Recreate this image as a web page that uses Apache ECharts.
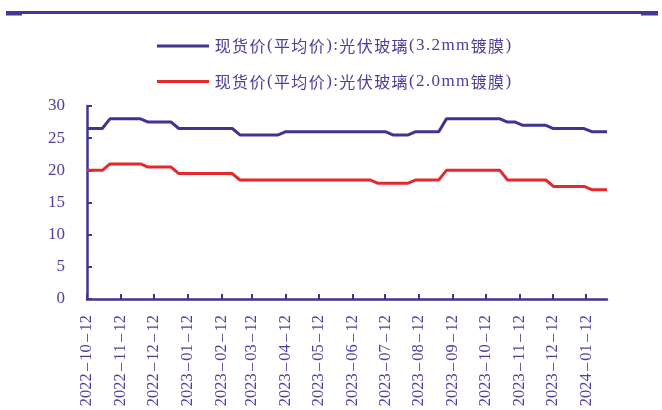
<!DOCTYPE html>
<html>
<head>
<meta charset="utf-8">
<script src="https://cdn.jsdelivr.net/npm/echarts@6/dist/echarts.min.js"></script>
<style>
html,body{margin:0;padding:0;background:#fff;}
#chart{width:662px;height:410px;}
</style>
</head>
<body>
<div id="chart"></div>
<script>
// Weekly observation dates
const dates = [
  '2022-10-12','2022-10-19','2022-10-26','2022-11-02','2022-11-09','2022-11-16','2022-11-23','2022-11-30',
  '2022-12-07','2022-12-14','2022-12-21','2022-12-28',
  '2023-01-04','2023-01-11','2023-01-18','2023-01-25','2023-02-01','2023-02-08','2023-02-15','2023-02-22',
  '2023-03-01','2023-03-08','2023-03-15','2023-03-22','2023-03-29',
  '2023-04-05','2023-04-12','2023-04-19','2023-04-26','2023-05-03','2023-05-10','2023-05-17','2023-05-24','2023-05-31',
  '2023-06-07','2023-06-14','2023-06-21','2023-06-28','2023-07-05','2023-07-12','2023-07-19','2023-07-26',
  '2023-08-02','2023-08-09','2023-08-16','2023-08-23','2023-08-30',
  '2023-09-06','2023-09-13','2023-09-20','2023-09-27',
  '2023-10-04','2023-10-11','2023-10-18','2023-10-25',
  '2023-11-01','2023-11-08','2023-11-15','2023-11-22','2023-11-29',
  '2023-12-06','2023-12-13','2023-12-20','2023-12-27',
  '2024-01-03','2024-01-10','2024-01-17','2024-01-24','2024-01-31'
];
// 现货价(平均价):光伏玻璃(3.2mm镀膜)
const glass32 = [
  26.5,26.5,26.5,28,28,28,28,28,
  27.5,27.5,27.5,27.5,
  26.5,26.5,26.5,26.5,26.5,26.5,26.5,26.5,
  25.5,25.5,25.5,25.5,25.5,
  25.5,26,26,26,26,26,26,26,26,
  26,26,26,26,26,26,25.5,25.5,
  25.5,26,26,26,26,
  28,28,28,28,
  28,28,28,28,
  27.5,27.5,27,27,27,
  27,26.5,26.5,26.5,
  26.5,26.5,26,26,26
];
// 现货价(平均价):光伏玻璃(2.0mm镀膜)
const glass20 = [
  20,20,20,21,21,21,21,21,
  20.5,20.5,20.5,20.5,
  19.5,19.5,19.5,19.5,19.5,19.5,19.5,19.5,
  18.5,18.5,18.5,18.5,18.5,
  18.5,18.5,18.5,18.5,18.5,18.5,18.5,18.5,18.5,
  18.5,18.5,18.5,18.5,18,18,18,18,
  18,18.5,18.5,18.5,18.5,
  20,20,20,20,
  20,20,20,20,
  18.5,18.5,18.5,18.5,18.5,
  18.5,17.5,17.5,17.5,
  17.5,17.5,17,17,17
];
const seriesNames = ['现货价(平均价):光伏玻璃(3.2mm镀膜)','现货价(平均价):光伏玻璃(2.0mm镀膜)'];
const tickLabels = [
  '2022-10-12','2022-11-12','2022-12-12','2023-01-12','2023-02-12','2023-03-12','2023-04-12','2023-05-12',
  '2023-06-12','2023-07-12','2023-08-12','2023-09-12','2023-10-12','2023-11-12','2023-12-12','2024-01-12'
];
const yTicks = [0,5,10,15,20,25,30];

const axisColor = '#3D3590';
const textColor = '#4A4199';
const serif = "'Liberation Serif','Times New Roman',serif";
const cjk = "'Noto Sans CJK SC',sans-serif";

const DAY = 86400000;
const pd = s => Math.round(Date.UTC(+s.slice(0,4), +s.slice(5,7)-1, +s.slice(8,10)) / DAY);
const tickDays = tickLabels.map(pd);
const labelMap = {};
tickLabels.forEach((s,i)=>{ labelMap[tickDays[i]] = s; });

// wrap each char in a rich token (CJK vs Latin) to mimic the loose letter spacing
const spaced = s => Array.from(s).map(ch => (/[\u4e00-\u9fff]/.test(ch) ? '{c|' : '{l|') + ch + '}').join('');
const dated = s => Array.from(s).map(ch => ch === '-' ? '{d|\u2013}' : '{n|' + ch + '}').join('');

const chart = echarts.init(document.getElementById('chart'), null, {renderer:'canvas'});
chart.setOption({
  animation:false,
  backgroundColor:'#fff',
  graphic:[
    {type:'rect', shape:{x:6,y:11,width:652,height:3}, style:{fill:'#433894'}},
    {type:'rect', shape:{x:6,y:11,width:16,height:4.5}, style:{fill:'#433894'}},
    {type:'rect', shape:{x:641,y:11,width:17,height:4.5}, style:{fill:'#433894'}}
  ],
  legend:{
    orient:'vertical',
    left:157, top:36, padding:0,
    itemGap:15.5,
    itemWidth:52, itemHeight:3,
    icon:'rect',
    formatter:name => spaced(name),
    textStyle:{
      color:textColor, fontSize:16, lineHeight:20, fontFamily:serif,
      rich:{
        c:{color:textColor, fontSize:16, fontFamily:cjk, lineHeight:20, padding:[0,0.7,0,0.7]},
        l:{color:textColor, fontSize:17, fontFamily:serif, lineHeight:20, padding:[0,0.7,0,0.7]}
      }
    },
    data:seriesNames
  },
  grid:{left:87, right:55, top:106, bottom:111, containLabel:false},
  xAxis:{
    type:'value',
    min:pd(dates[0]), max:pd(dates[dates.length-1]),
    axisLine:{show:true, onZero:false, lineStyle:{color:axisColor, width:2.5}},
    axisTick:{show:true, inside:true, length:5, lineStyle:{color:axisColor, width:2}, customValues:tickDays},
    axisLabel:{
      customValues:tickDays,
      rotate:90, margin:16,
      color:textColor, fontSize:16.5, fontFamily:serif,
      formatter:v=>labelMap[v] ? dated(labelMap[v]) : '',
      rich:{
        n:{color:textColor, fontSize:16.5, fontFamily:serif},
        d:{color:textColor, fontSize:16.5, fontFamily:serif, padding:[0,2.2,0,2.2]}
      }
    },
    splitLine:{show:false}
  },
  yAxis:{
    type:'value', min:yTicks[0], max:yTicks[yTicks.length-1], interval:5,
    axisLine:{show:true, lineStyle:{color:axisColor, width:2.5}},
    axisTick:{show:true, inside:true, length:5, lineStyle:{color:axisColor, width:2}},
    axisLabel:{color:textColor, fontSize:17, fontFamily:serif, margin:22},
    splitLine:{show:false}
  },
  series:[
    {name:seriesNames[0], type:'line', showSymbol:false, symbol:'none',
     lineStyle:{color:'#3D3590', width:3}, itemStyle:{color:'#3D3590'},
     data:dates.map((d,i)=>[pd(d), glass32[i]])},
    {name:seriesNames[1], type:'line', showSymbol:false, symbol:'none',
     lineStyle:{color:'#E4282C', width:3}, itemStyle:{color:'#E4282C'},
     data:dates.map((d,i)=>[pd(d), glass20[i]])}
  ]
});
</script>
</body>
</html>
